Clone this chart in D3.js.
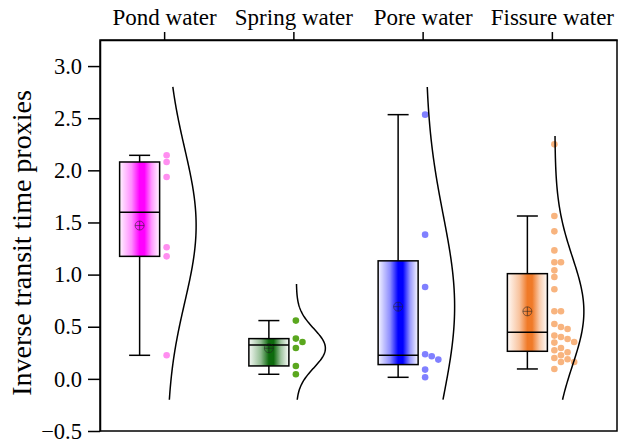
<!DOCTYPE html>
<html>
<head>
<meta charset="utf-8">
<script src="https://cdn.jsdelivr.net/npm/d3@7"></script>
<style>
  body { margin: 0; background: #fff; }
  svg { display: block; }
  text { font-family: "Liberation Serif", "Times New Roman", serif; fill: #000; }
</style>
</head>
<body>
<svg id="chart" width="620" height="443"></svg>
<script>
// Water groups and their measured inverse transit time proxies
const categories = ["Pond water", "Spring water", "Pore water", "Fissure water"];
const pondWater = [2.144, 2.080, 1.936, 1.262, 1.175, 0.226];
const springWater = [0.559, 0.386, 0.354, 0.296, 0.124, 0.044];
const poreWater = [2.534, 1.383, 0.881, 0.236, 0.217, 0.185, 0.089, 0.015];
const fissureWater = [2.249, 1.562, 1.415, 1.232, 1.118, 1.118, 1.041, 0.977, 0.859,
  0.648, 0.648, 0.526, 0.498, 0.478, 0.415, 0.402, 0.383, 0.354, 0.348, 0.296,
  0.274, 0.255, 0.226, 0.200, 0.188, 0.162, 0.162, 0.095];
// value range covered by each fitted normal curve
const curveLow = [-0.2, -0.2, -0.2, -0.2];
const curveHigh = [2.8, 0.91, 2.8, 2.33];
const yTicks = [-0.5, 0.0, 0.5, 1.0, 1.5, 2.0, 2.5, 3.0];

const boxColors = ["#ff00ff", "#0d6a0d", "#0000ff", "#f07a28"];
const pointColors = ["#ff8ef0", "#5aa71e", "#8080ff", "#f8b47f"];

const groups = [pondWater, springWater, poreWater, fissureWater];

const plotLeft = 100, plotRight = 617, plotTop = 40, plotBottom = 431;

const svg = d3.select("#chart");

const x = d3.scaleBand().domain(categories).range([plotLeft, plotRight]);
const y = d3.scaleLinear().domain([-0.5, 3.25]).range([plotBottom, plotTop]);

// box statistics with Tukey hinges and 1.5 IQR whiskers
function stats(vals) {
  const s = vals.slice().sort(d3.ascending);
  const n = s.length;
  const half = Math.floor(n / 2);
  const q1 = d3.median(s.slice(0, half));
  const q3 = d3.median(s.slice(n - half));
  const iqr = q3 - q1;
  return {
    q1, q3,
    med: d3.median(s),
    lo: d3.min(s.filter(v => v >= q1 - 1.5 * iqr)),
    hi: d3.max(s.filter(v => v <= q3 + 1.5 * iqr)),
    mean: d3.mean(s),
    sd: d3.deviation(s)
  };
}

// gradient fills for the boxes
const defs = svg.append("defs");
boxColors.forEach((c, i) => {
  const g = defs.append("linearGradient").attr("id", "grad" + i)
    .attr("x1", "0%").attr("x2", "100%").attr("y1", "0%").attr("y2", "0%");
  [[0, 0.04], [0.3, 0.45], [0.5, 1], [0.62, 1], [0.8, 0.4], [1, 0.02]].forEach(([o, a]) => {
    g.append("stop").attr("offset", o * 100 + "%").attr("stop-color", c).attr("stop-opacity", a);
  });
});

const bw = x.bandwidth();
const boxW = 40, capW = 21, curveW = 29, ptR = 3.3;

groups.forEach((vals, i) => {
  const cat = categories[i];
  const cx = x(cat) + bw / 2;
  const bx = cx - 25;
  const st = stats(vals);
  const g = svg.append("g");

  // whiskers
  g.append("line").attr("x1", bx).attr("x2", bx).attr("y1", y(st.hi)).attr("y2", y(st.q3))
    .attr("stroke", "#000").attr("stroke-width", 1.5);
  g.append("line").attr("x1", bx).attr("x2", bx).attr("y1", y(st.q1)).attr("y2", y(st.lo))
    .attr("stroke", "#000").attr("stroke-width", 1.5);
  [st.hi, st.lo].forEach(v => {
    g.append("line").attr("x1", bx - capW / 2).attr("x2", bx + capW / 2)
      .attr("y1", y(v)).attr("y2", y(v)).attr("stroke", "#000").attr("stroke-width", 1.5);
  });

  // box
  g.append("rect").attr("x", bx - boxW / 2).attr("width", boxW)
    .attr("y", y(st.q3)).attr("height", y(st.q1) - y(st.q3))
    .attr("fill", "url(#grad" + i + ")").attr("stroke", "#000").attr("stroke-width", 1.5);
  g.append("line").attr("x1", bx - boxW / 2).attr("x2", bx + boxW / 2)
    .attr("y1", y(st.med)).attr("y2", y(st.med)).attr("stroke", "#000").attr("stroke-width", 1.5);

  // mean marker
  const my = y(st.mean);
  const mg = g.append("g").attr("stroke", "#222").attr("stroke-opacity", 0.55).attr("stroke-width", 1).attr("fill", "none");
  mg.append("circle").attr("cx", bx).attr("cy", my).attr("r", 4.5);
  mg.append("line").attr("x1", bx - 4.5).attr("x2", bx + 4.5).attr("y1", my).attr("y2", my);
  mg.append("line").attr("x1", bx).attr("x2", bx).attr("y1", my - 4.5).attr("y2", my + 4.5);

  // data points, dodged sideways where they would overlap
  const px0 = cx + 2, step = 3.3, minDist = 6.6;
  const placed = [];
  vals.forEach(v => {
    const py = y(v);
    let k = 0;
    while (placed.some(p => Math.hypot(p.dx - k * step, p.py - py) < minDist)) k++;
    placed.push({ dx: k * step, py });
  });
  g.selectAll("circle.pt").data(placed).join("circle").attr("class", "pt")
    .attr("cx", d => px0 + d.dx).attr("cy", d => d.py).attr("r", ptR)
    .attr("fill", pointColors[i]);

  // half violin: normal curve from the group's mean and standard deviation
  const base = cx + 2.5;
  const samples = d3.range(0, 121).map(j => curveLow[i] + (curveHigh[i] - curveLow[i]) * j / 120);
  const line = d3.line()
    .x(v => base + curveW * Math.exp(-0.5 * Math.pow((v - st.mean) / st.sd, 2)))
    .y(v => y(v));
  g.append("path").datum(samples).attr("d", line)
    .attr("fill", "none").attr("stroke", "#000").attr("stroke-width", 1.5);
});

// frame
svg.append("rect").attr("x", plotLeft).attr("y", plotTop)
  .attr("width", plotRight - plotLeft).attr("height", plotBottom - plotTop)
  .attr("fill", "none").attr("stroke", "#000").attr("stroke-width", 1.5);

// left axis
const yAxis = svg.append("g").attr("transform", `translate(${plotLeft},0)`)
  .call(d3.axisLeft(y).tickValues(yTicks).tickFormat(d3.format(".1f")).tickSize(12).tickPadding(6).tickSizeOuter(0));
yAxis.select(".domain").attr("stroke-width", 1.5);
yAxis.selectAll(".tick line").attr("stroke-width", 1.5);
yAxis.selectAll("text").attr("font-size", 22.5).attr("font-family", null);

// top axis with group names
const xAxis = svg.append("g").attr("transform", `translate(0,${plotTop})`)
  .call(d3.axisTop(x).tickSize(8).tickPadding(7).tickSizeOuter(0));
xAxis.select(".domain").attr("stroke-width", 1.5);
xAxis.selectAll(".tick line").attr("stroke-width", 1.5);
xAxis.selectAll("text").attr("font-size", 23).attr("font-family", null);

// y axis title
svg.append("text")
  .attr("transform", `translate(31,${(88 + 398) / 2}) rotate(-90)`)
  .attr("text-anchor", "middle").attr("font-size", 28)
  .text("Inverse transit time proxies");
</script>
</body>
</html>
